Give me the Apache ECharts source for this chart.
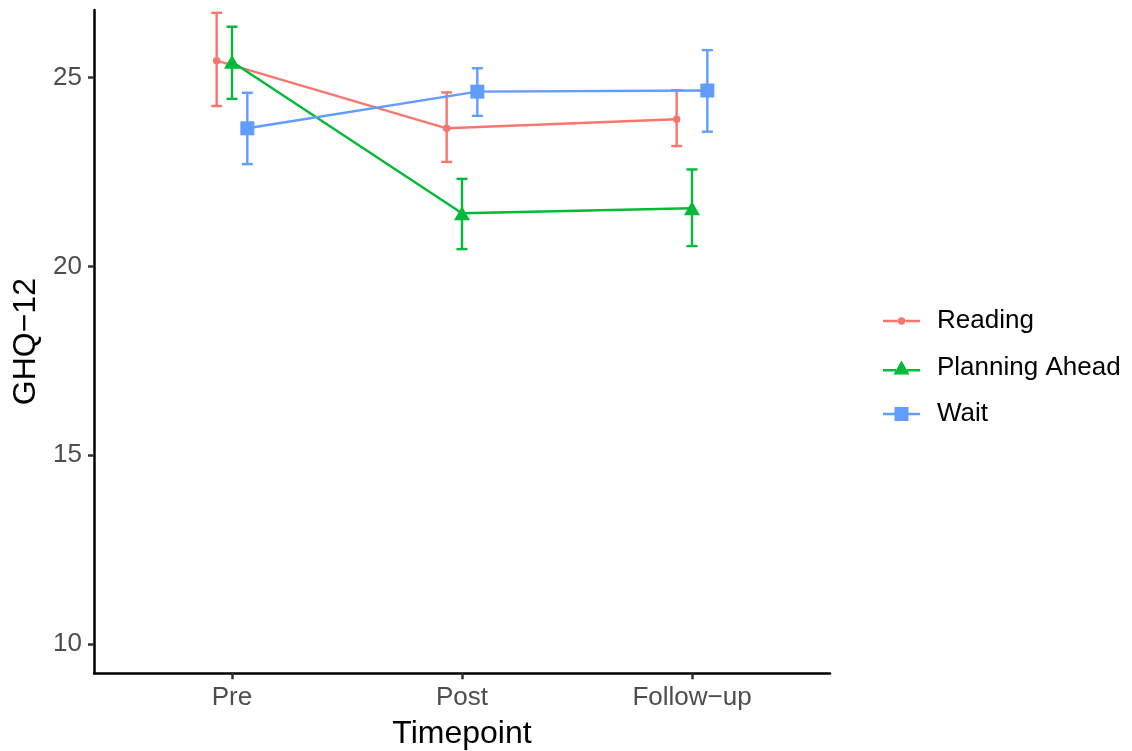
<!DOCTYPE html>
<html><head><meta charset="utf-8">
<script src="https://cdn.jsdelivr.net/npm/echarts@6/dist/echarts.min.js"></script>
<style>html,body{margin:0;padding:0;background:#fff}#c{width:1132px;height:751px}</style>
</head><body><div id="c"></div>
<script>
const categories = ['Pre', 'Post', 'Follow\u2212up'];
const groups = ['Reading', 'Planning Ahead', 'Wait'];
const readingMean = [25.45, 23.66, 23.90];
const readingLow  = [24.25, 22.77, 23.19];
const readingHigh = [26.72, 24.61, 24.67];
const planningMean = [25.42, 21.41, 21.54];
const planningLow  = [24.44, 20.46, 20.54];
const planningHigh = [26.35, 22.32, 22.57];
const waitMean = [23.66, 24.63, 24.66];
const waitLow  = [22.71, 23.99, 23.57];
const waitHigh = [24.60, 25.25, 25.73];
const yTicks = [10, 15, 20, 25];

const colors = ['#F8766D', '#00BA38', '#619CFF'];
const dodge = 0.2 / 3;
const means = [readingMean, planningMean, waitMean];
const lows = [readingLow, planningLow, waitLow];
const highs = [readingHigh, planningHigh, waitHigh];
const symbols = ['circle', 'triangle', 'rect'];
const symbolSizes = [7.5, [16, 14], 14];
const icons = [
  'path://M0,2.5H14.5V5H0Z M22.5,2.5H37V5H22.5Z M18.5,0A3.75,3.75 0 1,1 18.49,0Z',
  'path://M0,8.45H13V10.95H0Z M24,8.45H37V10.95H24Z M10.5,14L18.5,0L26.5,14Z',
  'path://M0,5.75H11.5V8.25H0Z M25.5,5.75H37V8.25H25.5Z M11.5,0H25.5V14H11.5Z'
];

const series = [];
groups.forEach((g, gi) => {
  const xs = categories.map((c, i) => i + 1 + (gi - 1) * dodge);
  series.push({
    type: 'custom', name: g + ' CI', z: 2,
    renderItem: (params, api) => {
      const x = api.value(0);
      const a = api.coord([x, api.value(1)]);
      const b = api.coord([x, api.value(2)]);
      const w = 5.5;
      const st = { stroke: colors[gi], lineWidth: 2.4 };
      return { type: 'group', children: [
        { type: 'line', shape: { x1: a[0], y1: a[1], x2: b[0], y2: b[1] }, style: st },
        { type: 'line', shape: { x1: a[0] - w, y1: a[1], x2: a[0] + w, y2: a[1] }, style: st },
        { type: 'line', shape: { x1: b[0] - w, y1: b[1], x2: b[0] + w, y2: b[1] }, style: st }
      ]};
    },
    encode: { x: 0, y: [1, 2] },
    data: xs.map((x, i) => [x, lows[gi][i], highs[gi][i]])
  });
  series.push({
    type: 'line', name: g, z: 3,
    data: xs.map((x, i) => [x, means[gi][i]]),
    symbol: symbols[gi], symbolSize: symbolSizes[gi],
    showAllSymbol: true,
    lineStyle: { color: colors[gi], width: 2.4 },
    itemStyle: { color: colors[gi] }
  });
});

const chart = echarts.init(document.getElementById('c'), null, { renderer: 'canvas' });
chart.setOption({
  animation: false,
  backgroundColor: '#ffffff',
  textStyle: { fontFamily: 'Liberation Sans, Arial, sans-serif' },
  grid: { left: 94, right: 302, top: 10, bottom: 77.7, outerBoundsMode: 'none' },
  xAxis: {
    type: 'value', min: 0.4, max: 3.6,
    splitLine: { show: false },
    axisLine: { show: true, onZero: false, lineStyle: { color: '#000', width: 2.5 } },
    axisTick: { show: true, customValues: [1, 2, 3], length: 6, lineStyle: { color: '#333', width: 2.5 } },
    axisLabel: { customValues: [1, 2, 3], formatter: v => categories[Math.round(v) - 1], fontSize: 26, color: '#4D4D4D', margin: 12 },
    name: 'Timepoint', nameLocation: 'middle', nameGap: 45,
    nameTextStyle: { fontSize: 32, color: '#000' }
  },
  yAxis: {
    type: 'value', min: 9.224, max: 26.793,
    splitLine: { show: false },
    axisLine: { show: true, onZero: false, lineStyle: { color: '#000', width: 2.5 } },
    axisTick: { show: true, customValues: yTicks, length: 6, lineStyle: { color: '#333', width: 2.5 } },
    axisLabel: { customValues: yTicks, fontSize: 26, color: '#4D4D4D', margin: 12 },
    name: 'GHQ\u221212', nameLocation: 'middle', nameGap: 52,
    nameTextStyle: { fontSize: 32, color: '#000' }
  },
  legend: {
    orient: 'vertical', left: 878, top: 303,
    itemWidth: 37, itemHeight: 15, itemGap: 20.5,
    symbolKeepAspect: true,
    textStyle: { fontSize: 26, color: '#000', lineHeight: 26, padding: [0, 0, 0, 12] },
    data: groups.map((g, gi) => ({ name: g, icon: icons[gi], itemStyle: { color: colors[gi] } }))
  },
  series: series
});
</script>
</body></html>
